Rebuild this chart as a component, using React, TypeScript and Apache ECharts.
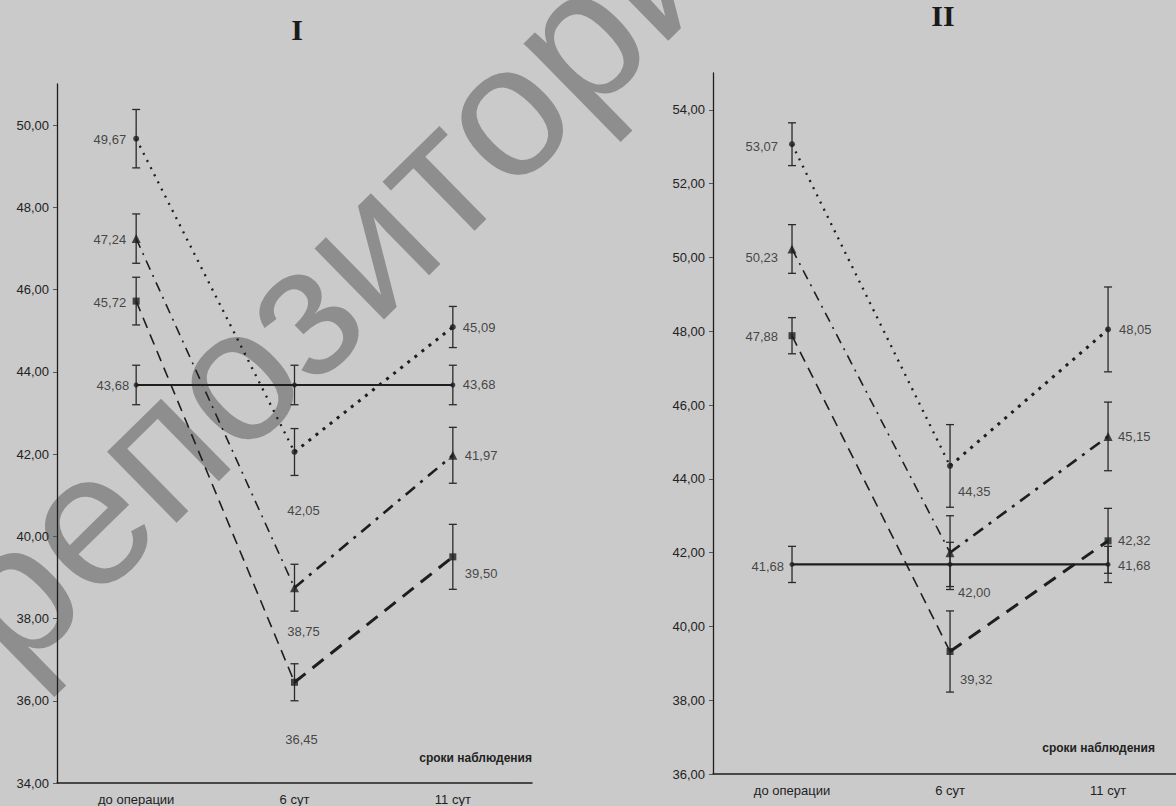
import React, { useEffect, useRef } from 'react';
import * as echarts from 'echarts';

// ---------- data ----------
const categories = ['до операции', '6 сут', '11 сут'];
const panelTitles = ['I', 'II'];
const axisNameText = 'сроки наблюдения';
const watermarkText = 'репозиторий';

const yTicksI = [34, 36, 38, 40, 42, 44, 46, 48, 50];
const yTicksII = [36, 38, 40, 42, 44, 46, 48, 50, 52, 54];

// Panel I : values (mean) and error half-widths
const p1Dotted = [49.67, 42.05, 45.09];
const p1DottedErr = [0.71, 0.57, 0.5];
const p1DashDot = [47.24, 38.75, 41.97];
const p1DashDotErr = [0.6, 0.57, 0.68];
const p1Dashed = [45.72, 36.45, 39.5];
const p1DashedErr = [0.58, 0.45, 0.79];
const p1Solid = [43.68, 43.68, 43.68];
const p1SolidErr = [0.48, 0.48, 0.48];

// Panel II
const p2Dotted = [53.07, 44.35, 48.05];
const p2DottedErr = [0.58, 1.12, 1.15];
const p2DashDot = [50.23, 42.0, 45.15];
const p2DashDotErr = [0.66, 1.0, 0.93];
const p2Dashed = [47.88, 39.32, 42.32];
const p2DashedErr = [0.49, 1.1, 0.88];
const p2Solid = [41.68, 41.68, 41.68];
const p2SolidErr = [0.49, 0.6, 0.49];

// which labels are shown (solid line has no label at 6 сут)
const labelShown = [
  [true, true, true],
  [true, true, true],
  [true, true, true],
  [true, false, true],
];

// ---------- styles / layout ----------
const INK = '#1e1e1e';
const FONT = 'Arial, "Liberation Sans", sans-serif';

const groupStyles = [
  { symbol: 'circle', size: 6, seg1: { type: [2, 6], width: 2.3 }, seg2: { type: [3, 6], width: 3 } },
  { symbol: 'triangle', size: 9, seg1: { type: [10, 6, 2, 6], width: 1.6 }, seg2: { type: [12, 7, 3, 7], width: 2.6 } },
  { symbol: 'rect', size: 7, seg1: { type: [11, 7], width: 1.6 }, seg2: { type: [14, 9], width: 3 } },
  { symbol: 'circle', size: 5, seg1: { type: 'solid', width: 2.2 }, seg2: { type: 'solid', width: 2.2 } },
];

// label placement: [group][point] = [align, dx, dy]
const labelLayoutI: any[][] = [
  [['right', -10, 1], ['center', 9, 58], ['left', 10, 0]],
  [['right', -10, 1], ['center', 9, 44], ['left', 12, 0]],
  [['right', -10, 1], ['center', 7, 57], ['left', 12, 17]],
  [['right', -7, 1], ['center', 0, 0], ['left', 10, 0]],
];
const labelLayoutII: any[][] = [
  [['right', -14, 2], ['left', 8, 26], ['left', 11, 0]],
  [['right', -14, 9], ['left', 8, 40], ['left', 10, 0]],
  [['right', -14, 1], ['left', 10, 28], ['left', 10, 0]],
  [['right', -8, 2], ['left', 0, 0], ['left', 10, 1]],
];

const panels = [
  {
    grid: { left: 57, top: 84, width: 475, height: 702 },
    yMin: 34, yMax: 51, xMin: -0.5, xMax: 2.5, ticks: yTicksI,
    values: [p1Dotted, p1DashDot, p1Dashed, p1Solid],
    errs: [p1DottedErr, p1DashDotErr, p1DashedErr, p1SolidErr],
    labels: labelLayoutI,
    title: { x: 297, y: 29 },
    axisName: { x: 532, y: 758 },
  },
  {
    grid: { left: 713, top: 73, width: 463, height: 701 },
    yMin: 36, yMax: 55, xMin: -0.5, xMax: 2.43, ticks: yTicksII,
    values: [p2Dotted, p2DashDot, p2Dashed, p2Solid],
    errs: [p2DottedErr, p2DashDotErr, p2DashedErr, p2SolidErr],
    labels: labelLayoutII,
    title: { x: 943, y: 15 },
    axisName: { x: 1155, y: 748 },
  },
];

const fmt = (v: number) => v.toFixed(2).replace('.', ',');

function buildOption() {
  const grids: any[] = [];
  const xAxes: any[] = [];
  const yAxes: any[] = [];
  const series: any[] = [];
  const graphics: any[] = [];

  panels.forEach((p, pi) => {
    grids.push({ ...p.grid, containLabel: false });
    xAxes.push({
      type: 'value',
      gridIndex: pi,
      min: p.xMin,
      max: p.xMax,
      interval: 0.5,
      axisLine: { show: true, onZero: false, lineStyle: { color: INK, width: 1.5 } },
      axisTick: { show: false },
      splitLine: { show: false },
      axisLabel: {
        customValues: [0, 1, 2],
        margin: 10,
        color: '#222',
        fontSize: 13,
        fontFamily: FONT,
        formatter: (v: number) => (Number.isInteger(v) && v >= 0 && v < categories.length ? categories[v] : ''),
      },
    });
    yAxes.push({
      type: 'value',
      gridIndex: pi,
      min: p.yMin,
      max: p.yMax,
      interval: 2,
      axisLine: { show: true, onZero: false, lineStyle: { color: INK, width: 1.3 } },
      axisTick: { show: true, length: 4, customValues: p.ticks, lineStyle: { color: '#555' } },
      splitLine: { show: false },
      axisLabel: {
        customValues: p.ticks,
        margin: 8,
        color: '#222',
        fontSize: 13,
        fontFamily: FONT,
        formatter: (v: number) => (v % 2 === 0 ? fmt(v) : ''),
      },
    });

    p.values.forEach((vals, g) => {
      const st = groupStyles[g];
      series.push({
        type: 'line',
        xAxisIndex: pi,
        yAxisIndex: pi,
        data: [[0, vals[0]], [1, vals[1]]],
        showSymbol: false,
        silent: true,
        z: 2,
        lineStyle: { color: INK, width: st.seg1.width, type: st.seg1.type },
      });
      series.push({
        type: 'line',
        xAxisIndex: pi,
        yAxisIndex: pi,
        data: [[1, vals[1]], [2, vals[2]]],
        showSymbol: false,
        silent: true,
        z: 2,
        lineStyle: { color: INK, width: st.seg2.width, type: st.seg2.type },
      });
      series.push({
        type: 'custom',
        xAxisIndex: pi,
        yAxisIndex: pi,
        silent: true,
        z: 3,
        encode: { x: 0, y: [1, 2] },
        data: vals.map((v, i) => [i, v - p.errs[g][i], v + p.errs[g][i]]),
        renderItem: (params: any, api: any) => {
          const x = api.value(0);
          const lo = api.coord([x, api.value(1)]);
          const hi = api.coord([x, api.value(2)]);
          const style = { stroke: '#2a2a2a', lineWidth: 1.3, fill: 'none' };
          return {
            type: 'group',
            children: [
              { type: 'line', shape: { x1: lo[0], y1: lo[1], x2: hi[0], y2: hi[1] }, style },
              { type: 'line', shape: { x1: lo[0] - 4, y1: lo[1], x2: lo[0] + 4, y2: lo[1] }, style },
              { type: 'line', shape: { x1: hi[0] - 4, y1: hi[1], x2: hi[0] + 4, y2: hi[1] }, style },
            ],
          };
        },
      });
      series.push({
        type: 'scatter',
        xAxisIndex: pi,
        yAxisIndex: pi,
        symbol: st.symbol,
        symbolSize: st.size,
        silent: true,
        z: 4,
        itemStyle: { color: INK },
        data: vals.map((v, i) => {
          const [align, dx, dy] = p.labels[g][i];
          return {
            value: [i, v],
            label: {
              show: labelShown[g][i],
              position: 'inside',
              align,
              verticalAlign: 'middle',
              offset: [dx, dy],
              color: '#222',
              fontSize: 13,
              fontFamily: FONT,
              formatter: (prm: any) => fmt(prm.value[1]),
            },
          };
        }),
      });
    });

    graphics.push({
      type: 'text',
      x: p.title.x,
      y: p.title.y,
      silent: true,
      style: {
        text: panelTitles[pi],
        font: 'bold 30px "Liberation Serif", "Times New Roman", serif',
        fill: '#1a1a1a',
        align: 'center',
        verticalAlign: 'middle',
      },
    });
    graphics.push({
      type: 'text',
      x: p.axisName.x,
      y: p.axisName.y,
      silent: true,
      style: {
        text: axisNameText,
        font: 'bold 12px Arial, "Liberation Sans", sans-serif',
        fill: '#222',
        align: 'right',
        verticalAlign: 'middle',
      },
    });
  });

  graphics.unshift({
    type: 'text',
    x: 368,
    y: 244,
    rotation: (44.4 * Math.PI) / 180,
    silent: true,
    z: -10,
    style: {
      text: watermarkText,
      font: '188px Arial, "Liberation Sans", sans-serif',
      fill: '#8e8e8e',
      align: 'center',
      verticalAlign: 'middle',
    },
  });

  return {
    animation: false,
    backgroundColor: '#cacaca',
    grid: grids,
    xAxis: xAxes,
    yAxis: yAxes,
    series,
    graphic: { elements: graphics },
  };
}

export default function App() {
  const ref = useRef<HTMLDivElement>(null);
  useEffect(() => {
    if (!ref.current) return;
    const chart = echarts.init(ref.current, undefined, { renderer: 'svg' });
    chart.setOption(buildOption() as any);
    return () => chart.dispose();
  }, []);
  return (
    <div
      ref={ref}
      style={{ position: 'fixed', left: 0, top: 0, width: 1176, height: 806 }}
    />
  );
}
